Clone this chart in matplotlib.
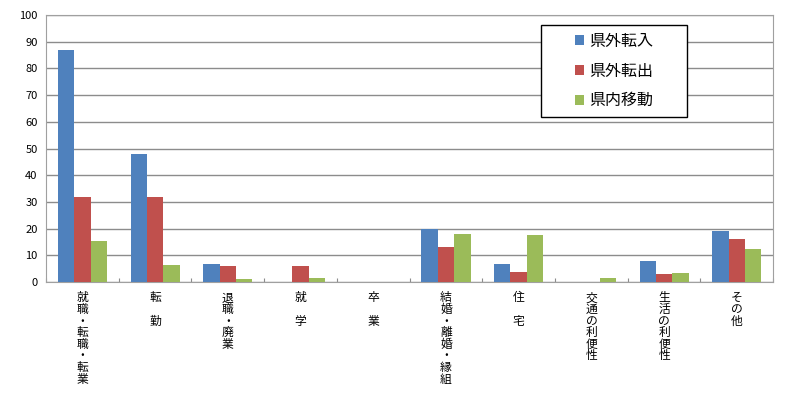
import numpy as np
import matplotlib
matplotlib.use("Agg")
from matplotlib import pyplot as plt
from matplotlib.patches import Rectangle

plt.rcParams['font.family'] = ['Noto Sans CJK JP', 'DejaVu Sans']

categories = ["就職・転職・転業", "転　勤", "退職・廃業", "就　学", "卒　業",
              "結婚・離婚・縁組", "住　宅", "交通の利便性", "生活の利便性", "その他"]
series_names = ["県外転入", "県外転出", "県内移動"]
inflow = [87, 48, 6.7, 0, 0, 20, 6.7, 0, 7.9, 19]
outflow = [32, 32, 6, 6, 0, 13, 3.8, 0, 3.1, 16]
internal = [15.4, 6.4, 1, 1.6, 0, 17.9, 17.6, 1.6, 3.5, 12.4]
colors = ["#4F81BD", "#C0504D", "#9BBB59"]

fig = plt.figure(figsize=(8, 3.95), dpi=100)
ax = fig.add_axes([0.0575, 0.286, 0.909, 0.676])

x = np.arange(len(categories))
w = 0.225
for i, (vals, name) in enumerate(zip([inflow, outflow, internal], series_names)):
    ax.bar(x + (i - 1) * w, vals, width=w, color=colors[i], label=name, zorder=3)

ax.set_xlim(-0.5, len(categories) - 0.5)
ax.set_ylim(0, 100)
ax.set_yticks(np.arange(0, 101, 10))
ax.yaxis.grid(True, color="#8c8c8c", linewidth=1, zorder=0)
ax.tick_params(axis='y', length=0, labelsize=8, pad=6)

# category boundaries as small inner ticks
ax.set_xticks(np.arange(len(categories) + 1) - 0.5)
ax.set_xticklabels([])
ax.tick_params(axis='x', direction='in', length=3, color="#8c8c8c")
for xi, cat in zip(x, categories):
    ax.text(xi, -3.5, "\n".join(cat), ha='center', va='top', fontsize=8.5,
            linespacing=0.86, transform=ax.transData)

for s in ax.spines.values():
    s.set_color("#a0a0a0")

# legend frame drawn separately so the entries sit centred in a wider box
ax.add_patch(Rectangle((0.681, 0.618), 0.2, 0.345, transform=ax.transAxes,
                       facecolor='white', edgecolor='black', linewidth=1, zorder=5))
leg = ax.legend(loc='center', bbox_to_anchor=(0.781, 0.79), fontsize=11.5,
                frameon=False, handlelength=0.55, handleheight=0.55,
                handletextpad=0.35, labelspacing=0.8, borderpad=0)
leg.set_zorder(6)

fig.savefig("out.png", dpi=100)
